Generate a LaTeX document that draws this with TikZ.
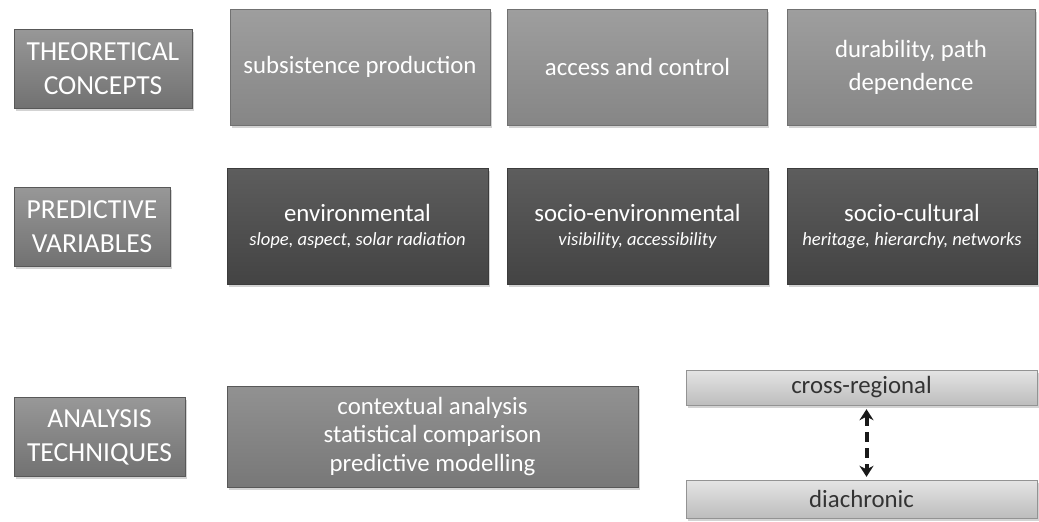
\documentclass[tikz,border=0pt]{standalone}
\usepackage{fontspec}
\setmainfont{Carlito}
\usepackage{tikz}
\usetikzlibrary{shadows,arrows.meta}
\definecolor{headgray}{HTML}{7E7E7E}
\definecolor{lightgray}{HTML}{8D8D8D}
\definecolor{darkgray}{HTML}{4B4B4B}
\definecolor{palegray}{HTML}{D2D2D2}
\tikzstyle{basebox} = [rectangle, inner sep=0pt, align=center, text=white,
    font=\fontsize{24.8}{33}\selectfont,
    drop shadow={shadow xshift=1.5pt, shadow yshift=-2.5pt, opacity=0.35}]
\tikzstyle{headbox} = [basebox, top color=headgray!80!white, bottom color=headgray!90!black,
    draw=headgray!70!black, minimum height=79pt, font=\fontsize{27.5}{34}\selectfont]
\tikzstyle{conceptbox} = [basebox, top color=lightgray!85!white, bottom color=lightgray!95!black,
    draw=lightgray!80!black, minimum width=260pt, minimum height=116pt]
\tikzstyle{varbox} = [basebox, top color=darkgray!90!white, bottom color=darkgray!90!black,
    draw=darkgray!80!black, minimum width=261pt, minimum height=116pt]
\tikzstyle{techbox} = [basebox, top color=headgray!85!white, bottom color=headgray!95!black,
    draw=headgray!70!black, font=\fontsize{24.8}{28.5}\selectfont]
\tikzstyle{scalebox} = [basebox, text=black!80, top color=palegray!60!white, bottom color=palegray!90!black,
    draw=palegray!70!black, minimum width=351pt]
\newcommand{\subline}[1]{\\[-9pt]{\fontsize{18.6}{22}\selectfont\itshape #1}}

\begin{document}
\begin{tikzpicture}[x=1pt,y=-1pt]
    \useasboundingbox (0,0) rectangle (1039,522);
    % row labels
    \node [headbox, minimum width=178pt] (theory) at (103,68.5) {THEORETICAL\\CONCEPTS};
    \node [headbox, minimum width=156pt] (predict) at (92,226.5) {PREDICTIVE\\VARIABLES};
    \node [headbox, minimum width=171pt] (analysis) at (99.5,437) {ANALYSIS\\TECHNIQUES};
    % theoretical concepts
    \node [conceptbox] (subsist) at (360,67) {subsistence production};
    \node [conceptbox] (access) at (637.5,67) {access and control};
    \node [conceptbox, minimum width=248pt] (durable) at (911,67) {durability, path\\dependence};
    % predictive variables
    \node [varbox] (environ) at (357.5,226) {environmental\subline{slope, aspect, solar radiation}};
    \node [varbox] (socioenv) at (637.5,226) {socio-environmental\subline{visibility, accessibility}};
    \node [varbox, minimum width=250pt] (sociocult) at (912,226) {socio-cultural\subline{heritage, hierarchy, networks}};
    % analysis techniques
    \node [techbox, minimum width=411pt, minimum height=101pt] (context) at (432.5,436.5)
        {contextual analysis\\statistical comparison\\predictive modelling};
    \node [scalebox, minimum height=35pt] (cross) at (861.5,387.5) {cross-regional};
    \node [scalebox, minimum height=38pt] (diachron) at (861.5,499) {diachronic};
    \draw [line width=4pt, dash pattern=on 10pt off 6pt, black!90,
        {Stealth[length=11pt,width=14pt]}-{Stealth[length=11pt,width=14pt]},
        shorten <=4pt, shorten >=3pt]
        ([xshift=5pt]cross.south) -- ([xshift=5pt]diachron.north);
\end{tikzpicture}
\end{document}
